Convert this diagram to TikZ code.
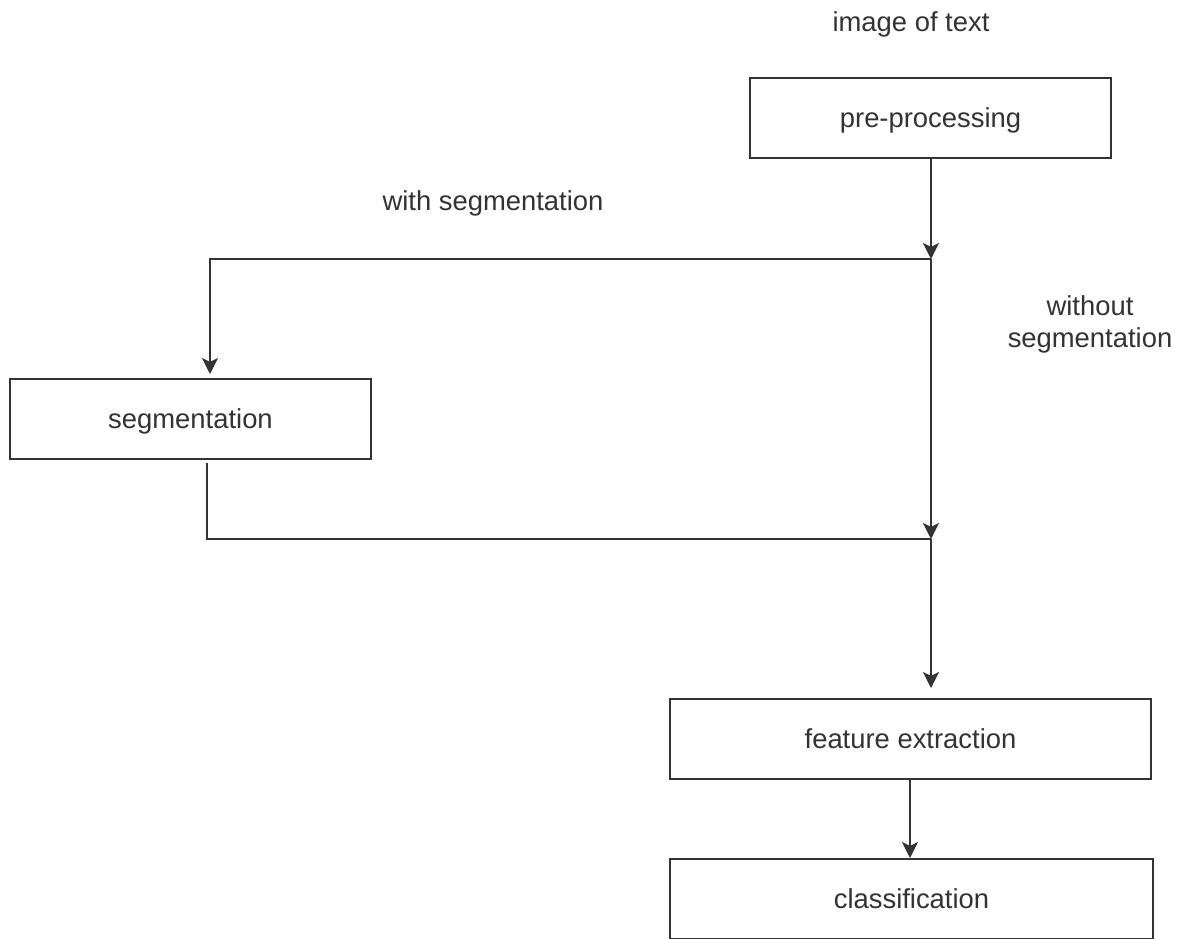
\documentclass[tikz,border=0pt]{standalone}
\usepackage{fontspec}
\setmainfont{Liberation Sans}
\usetikzlibrary{arrows.meta}
\definecolor{ink}{HTML}{333333}
\begin{document}
\begin{tikzpicture}[x=1pt,y=-1pt,
  every node/.style={font=\fontsize{27.4}{32}\selectfont, text=ink},
  box/.style={draw=ink, line width=2pt, minimum height=80pt, inner sep=0pt, fill=white, text depth=0pt},
  link/.style={draw=ink, line width=2pt},
  arr/.style={link, -{Stealth[length=16pt,width=16pt,inset=4pt]}}]
\useasboundingbox[fill=white] (0,0) rectangle (1187,938);
\node[box, minimum width=361pt] (pre) at (930.5,118) {pre-processing};
\node[box, minimum width=361pt] (seg) at (190.5,419) {segmentation};
\node[box, minimum width=481pt] (feat) at (910.5,739) {feature extraction};
\node[box, minimum width=483pt] (cls) at (911.5,898.5) {classification};
\node (img) at (911,24) {image of text};
\node (with) at (493,203) {with segmentation};
\node[align=center] (without) at (1090,324) {without\\segmentation};
\coordinate (j1) at (931,259);
\coordinate (j2) at (931,539);
\coordinate (segin) at (210,374);
\coordinate (segout) at (207,463);
\coordinate (featin) at (931,688);
\coordinate (clsin) at (910,858);
\draw[arr] (pre.south -| j1) -- (j1);
\draw[arr] (j1) -| (segin);
\draw[arr] (j1) -- (j2);
\draw[link] (segout) |- (j2);
\draw[arr] (j2) -- (featin);
\draw[arr] (feat.south -| clsin) -- (clsin);
\end{tikzpicture}
\end{document}
